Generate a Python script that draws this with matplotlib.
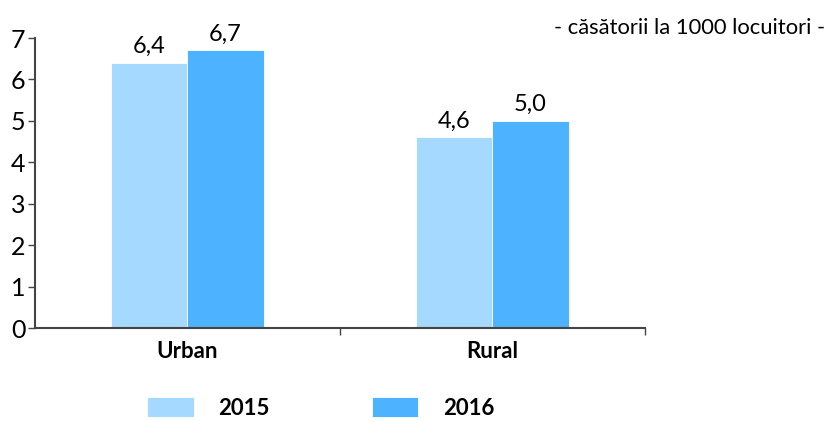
import matplotlib
matplotlib.use("Agg")
import matplotlib.pyplot as plt
import numpy as np

categories = ["Urban", "Rural"]
years = ["2015", "2016"]
values_2015 = [6.4, 4.6]
values_2016 = [6.7, 5.0]
y_ticks = [0, 1, 2, 3, 4, 5, 6, 7]
unit_note = "- căsătorii la 1000 locuitori -"

colors = ["#A6D9FF", "#4DB2FF"]

plt.rcParams['font.family'] = ['Lato', 'DejaVu Sans']

fig = plt.figure(figsize=(8.29, 4.21), dpi=100)
ax = fig.add_axes([35/829, (421-328)/421, (645-35)/829, (328-38)/421])

x = np.arange(len(categories))
w = 0.25
b1 = ax.bar(x - w/2, values_2015, w, color=colors[0], label=years[0], edgecolor="white", linewidth=0.6)
b2 = ax.bar(x + w/2, values_2016, w, color=colors[1], label=years[1], edgecolor="white", linewidth=0.6)

for bars, vals in ((b1, values_2015), (b2, values_2016)):
    ax.bar_label(bars, labels=[f"{v:.1f}".replace(".", ",") for v in vals],
                 padding=4, fontsize=17, color="#000000")

ax.set_xlim(-0.5, 1.5)
ax.set_ylim(0, 7)
ax.set_yticks(y_ticks)
ax.set_yticklabels([str(t) for t in y_ticks], fontsize=18)
ax.tick_params(axis="y", length=5, width=1, color="#444444", pad=2, direction="out")

ax.set_xticks([0.5, 1.5])
ax.set_xticklabels(["", ""])
ax.set_xticks(x, minor=True)
ax.set_xticklabels(categories, minor=True, fontsize=16, fontweight="bold")
ax.tick_params(axis="x", which="major", length=5, width=1, color="#444444")
ax.tick_params(axis="x", which="minor", length=0, pad=9)

for s in ("top", "right"):
    ax.spines[s].set_visible(False)
for s in ("left", "bottom"):
    ax.spines[s].set_color("#444444")
    ax.spines[s].set_linewidth(1.5)

fig.text(825/829, 1 - 28/421, unit_note, ha="right", va="center", fontsize=15.8, color="#000000")

leg = fig.legend(handles=[b1, b2], labels=years, loc="center left",
                 bbox_to_anchor=(147/829, 13/421), ncol=2, frameon=False,
                 borderaxespad=0, borderpad=0, handlelength=2.1, handleheight=1.0,
                 handletextpad=1.1, columnspacing=4.6,
                 prop={"size": 16, "weight": "bold"})

fig.savefig("out.png", dpi=100)
